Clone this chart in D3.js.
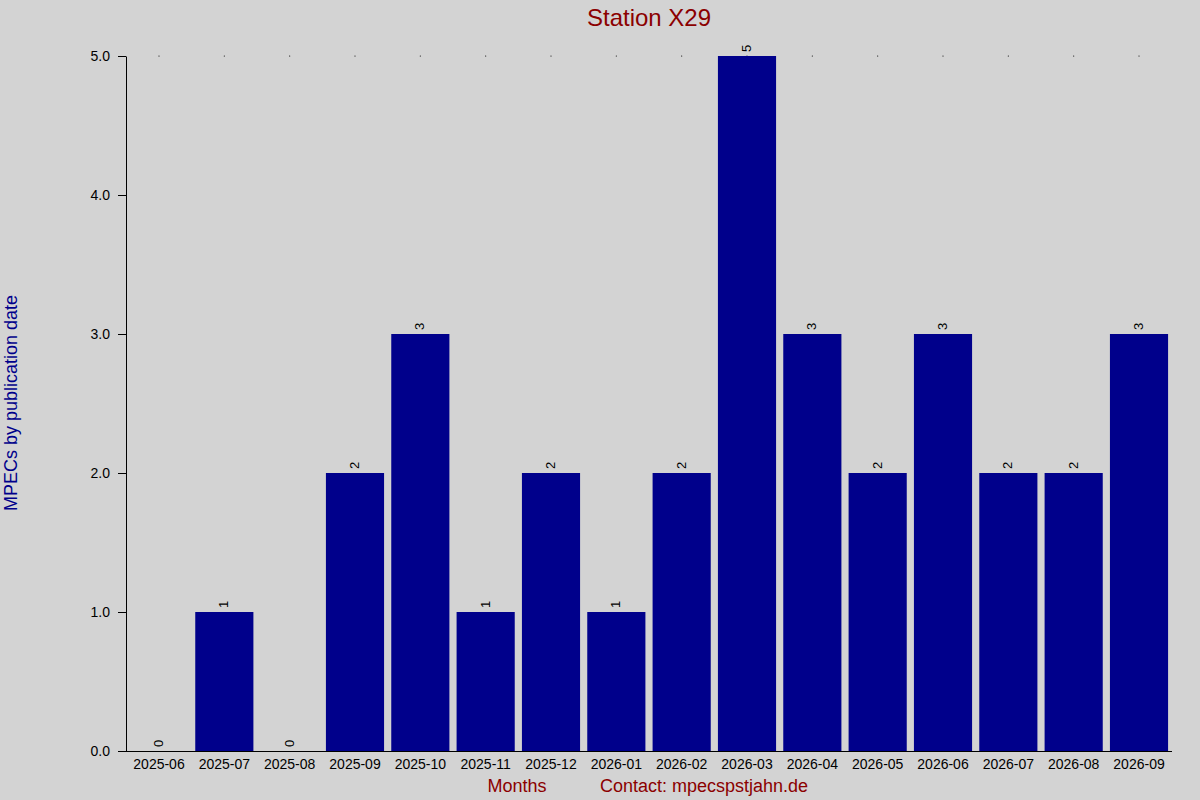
<!DOCTYPE html>
<html><head><meta charset="utf-8">
<script src="https://cdn.jsdelivr.net/npm/d3@7"></script>
<style>body{margin:0;background:#d3d3d3}svg{display:block;font-family:"Liberation Sans",Arial,sans-serif}</style>
</head><body><svg id="c" width="1200" height="800"></svg>
<script>
// 数据
const months = ["2025-06","2025-07","2025-08","2025-09","2025-10","2025-11","2025-12","2026-01",
  "2026-02","2026-03","2026-04","2026-05","2026-06","2026-07","2026-08","2026-09"];
const counts = [0,1,0,2,3,1,2,1,2,5,3,2,3,2,2,3];
const yTicks = [0,1,2,3,4,5];

const svg = d3.select("#c");
svg.append("rect").attr("width",1200).attr("height",800).attr("fill","#d3d3d3");
const x = d3.scaleBand().domain(months).range([126,1172]).paddingInner(0.11).paddingOuter(0.06);
const y = d3.scaleLinear().domain([0,5]).range([751,56]);

// 顶部小点
svg.append("g").selectAll("circle").data(months).join("circle")
  .attr("cx", d => x(d) + x.bandwidth()/2).attr("cy", y(5)).attr("r",0.6).attr("fill","#000");

svg.append("g").selectAll("rect").data(counts).join("rect")
  .attr("x",(d,i)=>x(months[i])).attr("width",x.bandwidth())
  .attr("y",d=>y(d)).attr("height",d=>y(0)-y(d)).attr("fill","#00008b");

// 数值标签
svg.append("g").selectAll("text").data(counts).join("text")
  .attr("transform",(d,i)=>`translate(${x(months[i])+x.bandwidth()/2+4},${y(d)-4}) rotate(-90)`)
  .attr("font-size",13).attr("fill","#000").text(d=>d);

const ya = svg.append("g").attr("transform","translate(126,0)")
  .call(d3.axisLeft(y).tickValues(yTicks).tickSize(8).tickPadding(8).tickSizeOuter(0));
ya.select(".domain").attr("stroke","#000");
ya.selectAll("text").attr("font-size",14).attr("fill","#000").attr("font-family","Liberation Sans, Arial, sans-serif");

const xa = svg.append("g").attr("transform","translate(0,751)")
  .call(d3.axisBottom(x).tickSize(0).tickPadding(8));
xa.select(".domain").attr("d","M118,0.5H1172");
xa.selectAll("text").attr("font-size",14).attr("fill","#000").attr("font-family","Liberation Sans, Arial, sans-serif");

svg.append("text").attr("x",649).attr("y",26).attr("text-anchor","middle")
  .attr("font-size",24).attr("fill","#8b0000").text("Station X29");
svg.append("text").attr("transform","translate(17,403) rotate(-90)").attr("text-anchor","middle")
  .attr("font-size",18).attr("fill","#00008b").text("MPECs by publication date");
svg.append("text").attr("x",517).attr("y",792).attr("text-anchor","middle")
  .attr("font-size",18).attr("fill","#8b0000").text("Months");
svg.append("text").attr("x",704).attr("y",792).attr("text-anchor","middle")
  .attr("font-size",18).attr("fill","#8b0000").text("Contact: mpecspstjahn.de");
</script></body></html>
